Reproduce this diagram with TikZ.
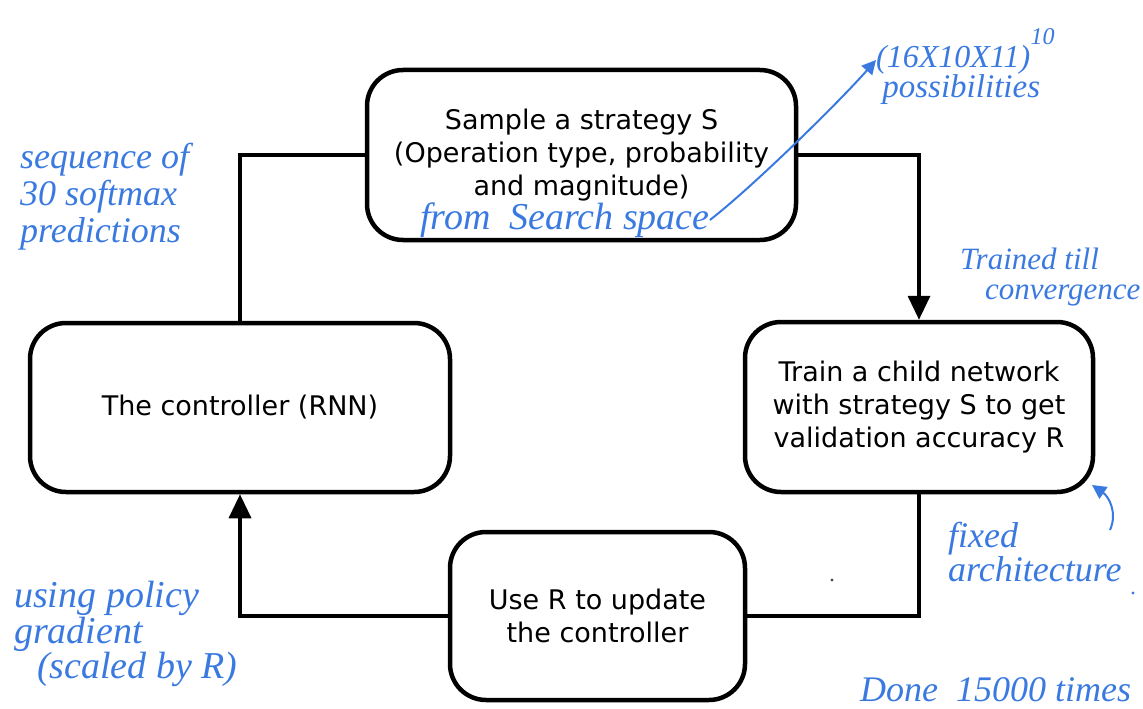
\documentclass[tikz,border=0pt]{standalone}
\usepackage{fontspec}
\setmainfont{DejaVu Sans}
\newfontfamily\hand{Liberation Serif}
\usetikzlibrary{arrows.meta}
\definecolor{hblue}{RGB}{58,122,224}
\begin{document}
\begin{tikzpicture}[x=1pt,y=-1pt,
  box/.style={draw, line width=4.5pt, rounded corners=36pt, align=center,
    font=\fontsize{27}{33}\selectfont, inner sep=0pt},
  link/.style={line width=3.5pt},
  note/.style={text=hblue, font=\hand\itshape\fontsize{34}{36}\selectfont, align=left, inner sep=0pt},
  harrow/.style={draw=hblue, line width=2pt, -{Triangle[length=14pt,width=14pt]}}]
\useasboundingbox (0,0) rectangle (1143,709);

% boxes
\node[box, minimum width=429pt, minimum height=170pt] (top) at (581.5,155)
  {Sample a strategy S\\(Operation type, probability\\and magnitude)};
\node[box, minimum width=420pt, minimum height=169pt] (left) at (240,407.5)
  {The controller (RNN)};
\node[box, minimum width=348pt, minimum height=170pt] (right) at (919,407)
  {Train a child network\\with strategy S to get\\validation accuracy R};
\node[box, minimum width=295pt, minimum height=168pt] (bottom) at (597.5,616)
  {Use R to update\\the controller};

% connectors
\draw[link] (top.west) -| (left.north);
\draw[link, -{Triangle[length=24pt,width=22pt]}] (top.east) -| (right.north);
\draw[link] (right.south) |- (bottom.east);
\draw[link, -{Triangle[length=24pt,width=22pt]}] (bottom.west) -| (left.south);

% handwritten notes
\node[note, anchor=west, font=\hand\itshape\fontsize{38}{38}\selectfont] (search) at (420,220) {from\ \ Search space};
\node[note, anchor=west, font=\hand\itshape\fontsize{32}{34}\selectfont] (poss) at (876,60) {(16X10X11)};
\node[note, anchor=south west, font=\hand\itshape\fontsize{24}{26}\selectfont] (pow) at (poss.north east) {10};
\node[note, anchor=north, font=\hand\itshape\fontsize{33}{34}\selectfont] (possb) at ([xshift=8pt]poss.south) {possibilities};
\draw[harrow] (search.east) .. controls +(45,-35) and +(-35,40) .. (poss.west);

\node[note, anchor=west, font=\hand\itshape\fontsize{36}{37}\selectfont] (seq) at (20,197)
  {sequence of\\30 softmax\\predictions};

\node[note, anchor=west, align=left, font=\hand\itshape\fontsize{31}{30}\selectfont] (trained) at (960,277)
  {Trained till\\\hspace*{0.8em}convergence};

\node[note, anchor=west, font=\hand\itshape\fontsize{36}{28}\selectfont] (fixed) at (948,552)
  {fixed\\architecture};
\coordinate (fa) at (1110,530);
\coordinate (fb) at (1092,485);
\draw[harrow] (fa) .. controls (1118,512) and (1108,496) .. (fb);

\node[note, anchor=west, font=\hand\itshape\fontsize{38}{30}\selectfont] (policy) at (14,634)
  {using policy\\gradient\\\hspace*{0.6em}(scaled by R)};

\node[note, anchor=west, font=\hand\itshape\fontsize{36}{36}\selectfont] (done) at (860,690)
  {Done\ \ 15000 times};

% stray dots
\fill[black!70] (832,580) circle (1.6pt);
\fill[hblue] (1133,593) circle (1.6pt);
\end{tikzpicture}
\end{document}
